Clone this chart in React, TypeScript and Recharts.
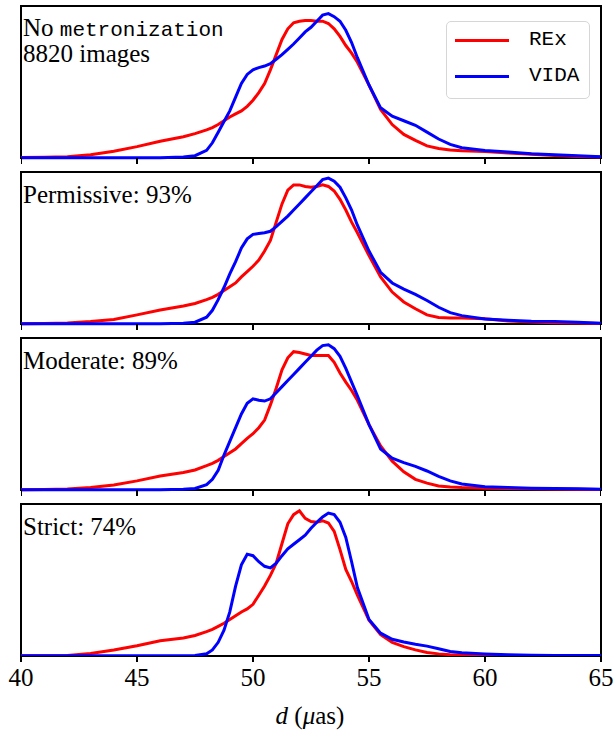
import React from 'react';
import { LineChart, Line, XAxis, YAxis, ReferenceArea } from 'recharts';

// d (μas) sample points shared by every curve
const dGrid = [40, 41, 42, 43, 44, 45, 46, 47, 47.5, 48, 48.25, 48.5, 48.75, 49, 49.25, 49.5, 49.75, 50, 50.25, 50.5, 50.75, 51, 51.25, 51.5, 51.75, 52, 52.25, 52.5, 52.75, 53, 53.25, 53.5, 53.75, 54, 54.25, 54.5, 55, 55.5, 56, 56.5, 57, 57.5, 58, 58.5, 59, 60, 61, 62, 63, 64, 65];

// density, scaled to panel height
const rexNone = [0.003, 0.005, 0.009, 0.022, 0.045, 0.075, 0.11, 0.14, 0.16, 0.185, 0.2, 0.22, 0.245, 0.27, 0.29, 0.31, 0.34, 0.38, 0.43, 0.49, 0.58, 0.68, 0.78, 0.85, 0.89, 0.9, 0.905, 0.905, 0.9, 0.9, 0.885, 0.85, 0.8, 0.74, 0.69, 0.63, 0.48, 0.32, 0.22, 0.155, 0.116, 0.08, 0.062, 0.053, 0.048, 0.043, 0.033, 0.024, 0.016, 0.01, 0.006];
const vidaNone = [0.002, 0.002, 0.002, 0.002, 0.002, 0.002, 0.002, 0.006, 0.015, 0.05, 0.1, 0.17, 0.24, 0.31, 0.4, 0.49, 0.55, 0.58, 0.595, 0.605, 0.62, 0.65, 0.68, 0.715, 0.75, 0.79, 0.83, 0.86, 0.9, 0.94, 0.95, 0.93, 0.9, 0.84, 0.76, 0.66, 0.48, 0.33, 0.275, 0.245, 0.215, 0.17, 0.125, 0.09, 0.068, 0.05, 0.04, 0.028, 0.021, 0.015, 0.009];

const rexPermissive = [0.002, 0.004, 0.007, 0.016, 0.03, 0.06, 0.092, 0.118, 0.135, 0.16, 0.175, 0.195, 0.22, 0.245, 0.27, 0.31, 0.345, 0.38, 0.42, 0.48, 0.55, 0.67, 0.79, 0.88, 0.915, 0.915, 0.905, 0.9, 0.905, 0.915, 0.905, 0.875, 0.82, 0.75, 0.67, 0.6, 0.45, 0.31, 0.21, 0.145, 0.1, 0.06, 0.043, 0.04, 0.04, 0.034, 0.02, 0.013, 0.009, 0.006, 0.004];
const vidaPermissive = [0.002, 0.002, 0.002, 0.002, 0.002, 0.002, 0.002, 0.005, 0.012, 0.045, 0.09, 0.16, 0.24, 0.33, 0.41, 0.5, 0.56, 0.59, 0.595, 0.6, 0.61, 0.64, 0.675, 0.71, 0.75, 0.79, 0.83, 0.87, 0.91, 0.95, 0.96, 0.94, 0.9, 0.83, 0.75, 0.65, 0.48, 0.34, 0.27, 0.23, 0.195, 0.155, 0.11, 0.075, 0.055, 0.033, 0.024, 0.018, 0.016, 0.012, 0.005];

const rexModerate = [0.002, 0.004, 0.007, 0.017, 0.033, 0.06, 0.092, 0.115, 0.132, 0.16, 0.175, 0.195, 0.22, 0.245, 0.27, 0.305, 0.34, 0.37, 0.41, 0.46, 0.56, 0.67, 0.79, 0.87, 0.91, 0.905, 0.895, 0.885, 0.885, 0.885, 0.885, 0.84, 0.77, 0.71, 0.655, 0.59, 0.43, 0.29, 0.19, 0.12, 0.07, 0.045, 0.027, 0.02, 0.016, 0.012, 0.01, 0.008, 0.006, 0.005, 0.004];
const vidaModerate = [0.002, 0.002, 0.002, 0.002, 0.002, 0.002, 0.002, 0.005, 0.01, 0.035, 0.07, 0.13, 0.23, 0.32, 0.41, 0.5, 0.57, 0.6, 0.59, 0.585, 0.6, 0.64, 0.68, 0.72, 0.76, 0.8, 0.84, 0.88, 0.92, 0.95, 0.955, 0.93, 0.88, 0.8, 0.71, 0.62, 0.43, 0.27, 0.21, 0.18, 0.155, 0.125, 0.09, 0.06, 0.04, 0.022, 0.016, 0.012, 0.01, 0.008, 0.005];

const rexStrict = [0.001, 0.002, 0.004, 0.016, 0.04, 0.068, 0.1, 0.118, 0.135, 0.16, 0.175, 0.195, 0.215, 0.24, 0.265, 0.29, 0.31, 0.34, 0.4, 0.46, 0.53, 0.61, 0.74, 0.87, 0.93, 0.955, 0.905, 0.885, 0.88, 0.89, 0.875, 0.82, 0.7, 0.57, 0.49, 0.4, 0.235, 0.14, 0.09, 0.062, 0.04, 0.023, 0.014, 0.009, 0.006, 0.004, 0.003, 0.002, 0.001, 0.001, 0.001];
const vidaStrict = [0.001, 0.001, 0.001, 0.001, 0.001, 0.001, 0.001, 0.002, 0.004, 0.015, 0.04, 0.09, 0.17, 0.29, 0.46, 0.6, 0.67, 0.66, 0.62, 0.59, 0.58, 0.61, 0.66, 0.705, 0.735, 0.765, 0.795, 0.84, 0.88, 0.915, 0.94, 0.93, 0.88, 0.78, 0.62, 0.45, 0.24, 0.15, 0.11, 0.092, 0.077, 0.065, 0.048, 0.03, 0.021, 0.013, 0.008, 0.005, 0.004, 0.004, 0.003];

const panelLabels = ['', 'Permissive: 93%', 'Moderate: 89%', 'Strict: 74%'];
const xTicks = [40, 45, 50, 55, 60, 65];

const panels = [
  { rex: rexNone, vida: vidaNone },
  { rex: rexPermissive, vida: vidaPermissive },
  { rex: rexModerate, vida: vidaModerate },
  { rex: rexStrict, vida: vidaStrict },
];

const SERIF = '"Liberation Serif", "DejaVu Serif", serif';
const MONO = '"Liberation Mono", "DejaVu Sans Mono", monospace';

// one plot area, panels stacked inside it (1 y-unit = one panel height)
const PANEL_H = 152;
const PANEL_STEP = 166;
const FIRST_TOP = 6;
const AXIS_H = 50;
const STEP_UNITS = PANEL_STEP / PANEL_H;
const TICK_UNITS = 6 / PANEL_H;
const offsets = panels.map((_, k) => (panels.length - 1 - k) * STEP_UNITS);
const Y_MAX = offsets[0] + 1;
const PLOT_H = (panels.length - 1) * PANEL_STEP + PANEL_H;

const rows = dGrid.map((d, i) => {
  const row: Record<string, number> = { d };
  panels.forEach((p, k) => {
    row[`rex${k}`] = p.rex[i] + offsets[k];
    row[`vida${k}`] = p.vida[i] + offsets[k];
  });
  return row;
});

// outward tick marks under the upper panels, as short broken line pieces
const tickRows: { d: number; tick: number | null }[] = [];
panels.slice(0, -1).forEach((_, k) => {
  xTicks.forEach((t) => {
    tickRows.push({ d: t, tick: offsets[k] });
    tickRows.push({ d: t, tick: offsets[k] - TICK_UNITS });
    tickRows.push({ d: t, tick: null });
  });
});

const App: React.FC = () => {
  return (
    <div style={{ position: 'absolute', left: 0, top: 0, width: 616, height: 732, background: '#fff' }}>
      <LineChart width={616} height={FIRST_TOP + PLOT_H + AXIS_H} data={rows} margin={{ top: FIRST_TOP, right: 15, left: 21, bottom: 0 }}>
        <XAxis
          dataKey="d"
          type="number"
          domain={[40, 65]}
          allowDataOverflow
          ticks={xTicks}
          interval={0}
          height={AXIS_H}
          axisLine={false}
          tickSize={6}
          tickMargin={6}
          tickLine={{ stroke: '#000', strokeWidth: 2 }}
          tick={{ fill: '#000', fontSize: 25, fontFamily: SERIF }}
        />
        <YAxis type="number" domain={[0, Y_MAX]} allowDataOverflow hide />
        {panels.map((_, k) => [
          <Line key={`rex${k}`} type="linear" dataKey={`rex${k}`} stroke="#ff0000" strokeWidth={3} dot={false} isAnimationActive={false} />,
          <Line key={`vida${k}`} type="linear" dataKey={`vida${k}`} stroke="#0000ff" strokeWidth={3} dot={false} isAnimationActive={false} />,
        ])}
        <Line
          data={tickRows}
          type="linear"
          dataKey="tick"
          stroke="#000"
          strokeWidth={2}
          dot={false}
          connectNulls={false}
          legendType="none"
          isAnimationActive={false}
        />
        {panels.map((_, k) => (
          <ReferenceArea key={`frame${k}`} x1={40} x2={65} y1={offsets[k]} y2={offsets[k] + 1} fill="none" stroke="#000" strokeWidth={2} />
        ))}
      </LineChart>

      <svg width={616} height={732} style={{ position: 'absolute', left: 0, top: 0, pointerEvents: 'none' }}>
        <text x={23} y={36} fontSize={25} fontFamily={SERIF} fill="#000">
          <tspan>No </tspan>
          <tspan fontFamily={MONO} fontSize={21}>metronization</tspan>
        </text>
        <text x={23} y={62} fontSize={25} fontFamily={SERIF} fill="#000">8820 images</text>
        {panelLabels.map((label, i) =>
          label ? (
            <text key={label} x={23} y={FIRST_TOP + i * PANEL_STEP + 31} fontSize={25} fontFamily={SERIF} fill="#000">
              {label}
            </text>
          ) : null
        )}
        <text x={310} y={724} textAnchor="middle" fontSize={25} fontFamily={SERIF} fill="#000">
          <tspan fontStyle="italic">d</tspan>
          <tspan> (</tspan>
          <tspan fontStyle="italic">μ</tspan>
          <tspan>as)</tspan>
        </text>
      </svg>

      <div
        style={{
          position: 'absolute',
          left: 446,
          top: 21,
          width: 144,
          height: 78,
          border: '1px solid #d6d6d6',
          borderRadius: 5,
          background: '#fff',
          boxSizing: 'border-box',
          fontFamily: MONO,
          fontSize: 21,
          color: '#000',
        }}
      >
        {[
          { name: 'REx', color: '#ff0000', y: 18 },
          { name: 'VIDA', color: '#0000ff', y: 54 },
        ].map((item) => (
          <div key={item.name} style={{ position: 'absolute', left: 8, top: item.y - 13, height: 26, display: 'flex', alignItems: 'center' }}>
            <div style={{ width: 54, height: 3, background: item.color }} />
            <span style={{ marginLeft: 20, lineHeight: '26px' }}>{item.name}</span>
          </div>
        ))}
      </div>
    </div>
  );
};

export default App;
